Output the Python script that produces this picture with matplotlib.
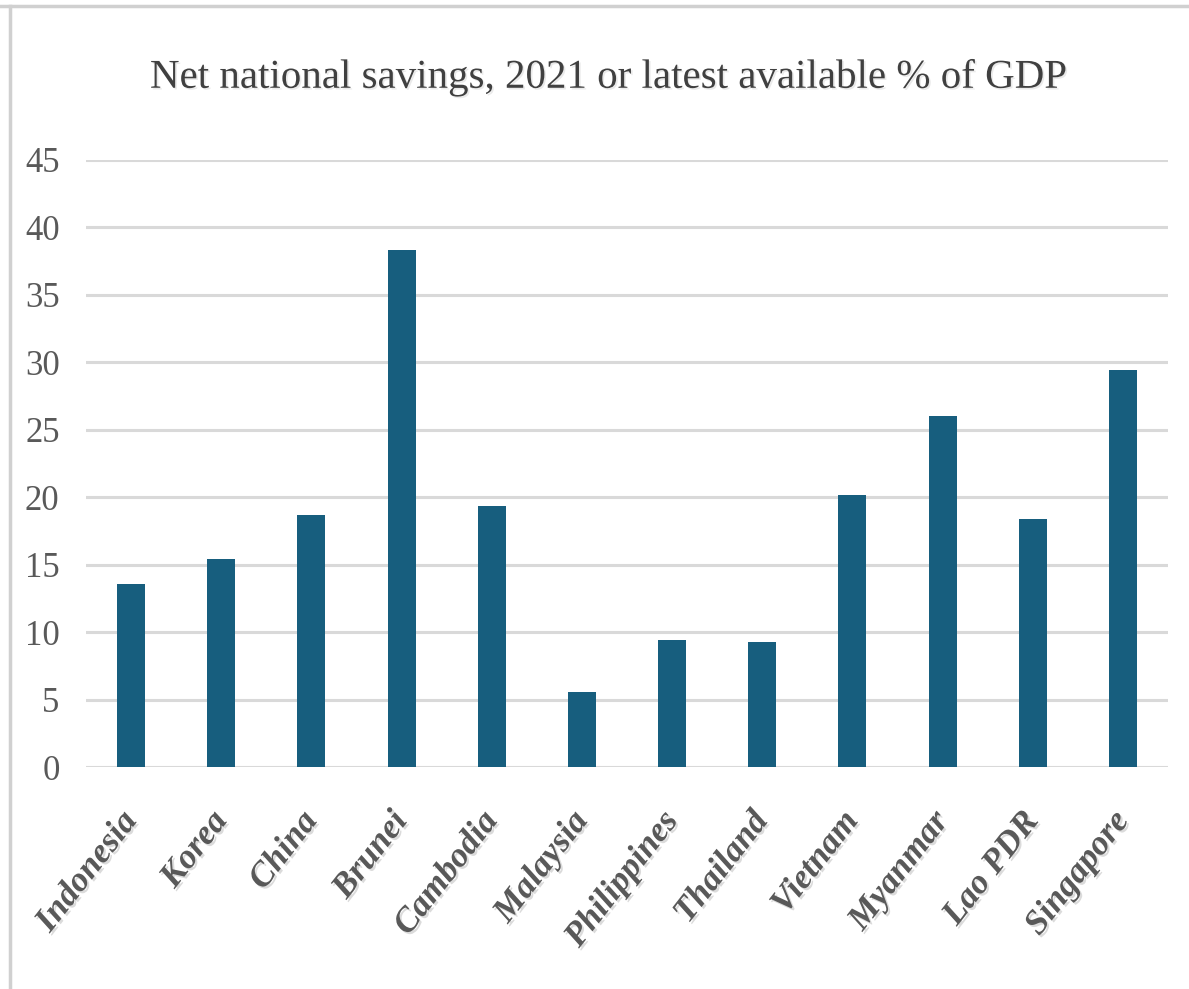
import matplotlib
matplotlib.use("Agg")
import matplotlib.pyplot as plt
import matplotlib.patheffects as pe
from matplotlib.lines import Line2D

categories = ["Indonesia", "Korea", "China", "Brunei", "Cambodia", "Malaysia",
              "Philippines", "Thailand", "Vietnam", "Myanmar", "Lao PDR", "Singapore"]
values = [13.6, 15.4, 18.7, 38.3, 19.35, 5.55, 9.4, 9.3, 20.2, 26.0, 18.4, 29.4]
yticks = [0, 5, 10, 15, 20, 25, 30, 35, 40, 45]
title = "Net national savings, 2021 or latest available % of GDP"

bar_color = "#175E7E"
text_color = "#595959"
grid_color = "#D9D9D9"

fig = plt.figure(figsize=(11.89, 9.89), dpi=100)
ax = fig.add_axes([86/1189, 1-767/989, (1168-86)/1189, (767-160)/989])

x = list(range(len(categories)))
ax.bar(x, values, width=0.31, color=bar_color, zorder=3)
ax.set_xlim(-0.5, len(categories)-0.5)
ax.set_ylim(0, 45)
ax.set_yticks(yticks)
ax.yaxis.grid(True, color=grid_color, linewidth=2.2, zorder=0)
ax.set_axisbelow(True)
for s in ax.spines.values():
    s.set_visible(False)
ax.tick_params(axis="both", length=0)
ax.tick_params(axis="y", pad=19)
ax.set_yticklabels([str(t) for t in yticks], fontfamily="Liberation Serif",
                   fontsize=25, color=text_color)

ax.set_xticks(x)
labels = ax.set_xticklabels(categories, fontfamily="Liberation Serif", fontsize=25,
                            fontweight="bold", fontstyle="italic", color=text_color,
                            rotation=52, ha="right", va="center", rotation_mode="anchor")
for lab in labels:
    lab.set_path_effects([pe.withSimplePatchShadow(offset=(1.5, -1.5),
                                                   shadow_rgbFace="#999999", alpha=0.35)])
ax.tick_params(axis="x", pad=35)

fig.text(0.512, 1-78/989, title, ha="center", va="center",
         fontfamily="Liberation Serif", fontsize=29.5, color="#404040",
         path_effects=[pe.withSimplePatchShadow(offset=(1.2, -1.2),
                                                shadow_rgbFace="#bbbbbb", alpha=0.3)])

# outer frame lines (top and left)
fig.add_artist(Line2D([0, 1], [1-6/989, 1-6/989], transform=fig.transFigure,
                      color="#D0D0D0", linewidth=2.5))
fig.add_artist(Line2D([10/1189, 10/1189], [0, 1-6/989], transform=fig.transFigure,
                      color="#D0D0D0", linewidth=2.5))

fig.savefig("out.png", dpi=100)
